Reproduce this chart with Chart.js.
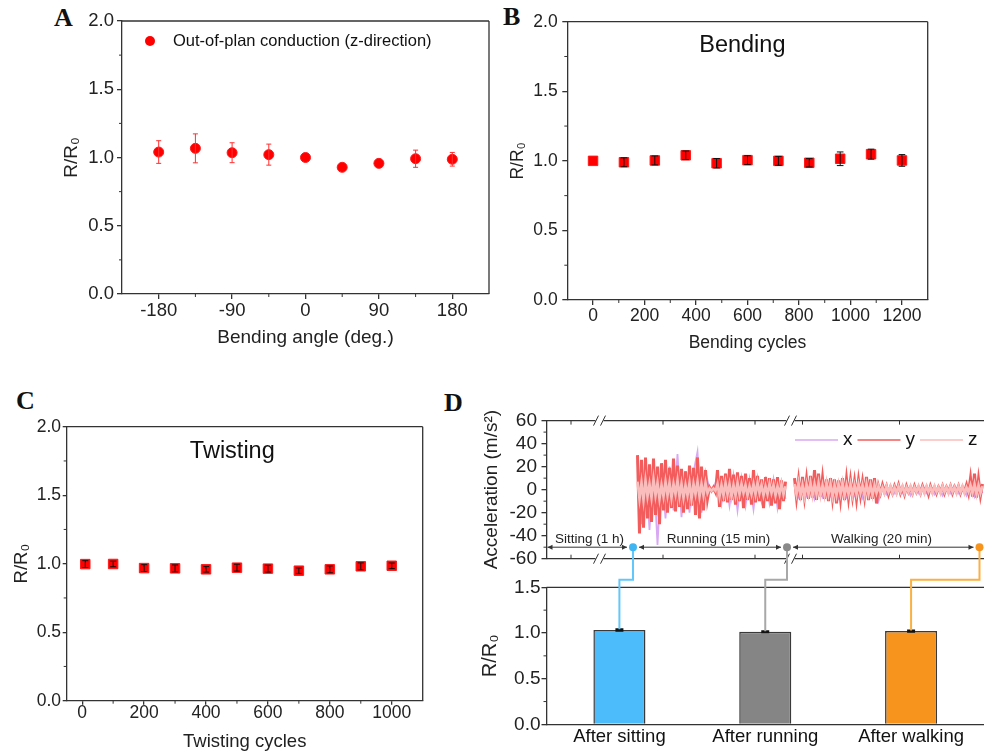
<!DOCTYPE html>
<html>
<head>
<meta charset="utf-8">
<title>R/R0 stability</title>
<script src="https://cdn.jsdelivr.net/npm/chart.js@4.4.1/dist/chart.umd.min.js"></script>
<style>
  html, body { margin: 0; padding: 0; background: #fff; overflow: hidden; }
  body { position: relative; width: 984px; height: 755px; }
  canvas { position: absolute; }
  .tag { position: absolute; font: bold 26px/1 "Liberation Serif", "Times New Roman", serif; color: #111; }
</style>
</head>
<body>
<div class="tag" style="left:54px;top:5px">A</div>
<div class="tag" style="left:503px;top:4px">B</div>
<div class="tag" style="left:16px;top:388px">C</div>
<div class="tag" style="left:444px;top:390px">D</div>
<canvas id="panelA" width="495" height="380" style="left:0;top:0"></canvas>
<canvas id="panelB" width="494" height="380" style="left:490px;top:0"></canvas>
<canvas id="panelC" width="490" height="375" style="left:0;top:380px"></canvas>
<canvas id="panelDacc" width="544" height="375" style="left:440px;top:380px"></canvas>
<canvas id="panelDbar" width="544" height="375" style="left:440px;top:380px"></canvas>
<script>
// A - bending angle
const anglesA = [-180, -135, -90, -45, 0, 45, 90, 135, 180];
const ratioA = [1.04, 1.067, 1.035, 1.021, 1.0, 0.928, 0.957, 0.991, 0.987];
const errA = [0.083, 0.106, 0.073, 0.077, 0, 0, 0, 0.063, 0.05];
const ticksAx = [-180, -90, 0, 90, 180];
const minorAx = [-135, -45, 45, 135];

// shared R/R0 axis
const ratioTicks = [0, 0.5, 1, 1.5, 2];
const ratioMinor = [0.25, 0.75, 1.25, 1.75];

// B - bending cycles
const cyclesB = [0, 120, 240, 360, 480, 600, 720, 840, 960, 1080, 1200];
const ratioB = [1.0, 0.99, 1.003, 1.04, 0.983, 1.005, 1.0, 0.986, 1.015, 1.048, 1.003];
const errB = [0, 0.032, 0.032, 0.031, 0.034, 0.032, 0.032, 0.03, 0.049, 0.036, 0.042];
const ticksBx = [0, 200, 400, 600, 800, 1000, 1200];
const minorBx = [100, 300, 500, 700, 900, 1100];

// C - twisting cycles
const cyclesC = [10, 100, 200, 300, 400, 500, 600, 700, 800, 900, 1000];
const ratioC = [0.997, 0.998, 0.968, 0.966, 0.959, 0.971, 0.964, 0.949, 0.959, 0.981, 0.985];
const errC = [0.025, 0.02, 0.025, 0.025, 0.02, 0.025, 0.025, 0.02, 0.025, 0.025, 0.02];
const ticksCx = [0, 200, 400, 600, 800, 1000];
const minorCx = [100, 300, 500, 700, 900];

// D - acceleration trace (time in arbitrary units, running starts at 91, walking at 248)
const accNames = ['x', 'y', 'z'];
const accColors = ['#d8a8f2', '#f25c5c', '#fbbcbc'];
const runT0 = 91, walkT0 = 248, gapT = 244;
const runY = [30, -38, 26, -33, 28, -25, 22, -28, 27, -22,
  20, -30, 23, -18, 26, -20, 19, -16, 27, -19,
  21, -15, 18, -20, 16, -17, 21, -14, 19, -22,
  28, -25, 20, -18, 17, -8, 2, -1, 2, -2,
  17, -15, 12, -10, 14, -11, 18, -9, 13, -13,
  15, -10, 12, -16, 14, -9, 10, -13, 17, -11,
  12, -10, 9, -16, 11, -10, 10, -14, 9, -12,
  11, -17, 8, -10, 7];
const walkY = [10, -7, 8, -9, 11, -6, 9, -8, 12, -7,
  17, -9, 14, -6, 10, -8, 9, -10, 10, -7,
  9, -12, 8, -8, 10, -9, 9, -7, 8, -6,
  7, -8, 8, -5, 7, -6, 11, -9, 9, -8,
  10, -12, 3, -3, 4, -2, 3, -4, 2, -3,
  3, -2, 4, -3, 2, -4, 3, -2, 2, -3,
  3, -2, 2, -3, 3, -2, 2, -4, 3, -2,
  2, -3, 2, -2, 3, -3, 2, -2, 3, -3,
  2, -2, 3, -3, 2, -2, 4, -3, 10, -6,
  14, -7, 9, -5, 5];
const runZ = [7, -8, 6, -9, 8, -6, 5, -7, 9, -5,
  6, -8, 4, -6, 7, -5, 6, -7, 5, -4,
  8, -6, 5, -7, 4, -5, 6, -8, 5, -4,
  7, -6, 5, -5, 6, -3, 1, -1, 1, -1,
  5, -6, 4, -5, 6, -4, 5, -6, 4, -5,
  6, -4, 5, -3, 4, -5, 3, -4, 5, -4,
  6, -3, 4, -5, 3, -4, 5, -3, 4, -5,
  3, -4, 5, -4, 3];
const walkZ = [5, -4, 6, -5, 4, -6, 5, -4, 6, -5,
  5, -4, 6, -5, 4, -5, 6, -4, 5, -6,
  4, -5, 5, -4, 6, -5, 4, -4, 5, -5,
  4, -4, 5, -3, 4, -5, 5, -4, 4, -5,
  4, -3, 3, -3, 2, -3, 3, -2, 3, -3,
  2, -3, 3, -2, 3, -3, 2, -2, 3, -3,
  2, -2, 3, -3, 2, -3, 3, -2, 2, -3,
  3, -2, 2, -3, 3, -2, 2, -3, 3, -2,
  2, -3, 3, -2, 3, -3, 2, -2, 4, -3,
  5, -4, 4, -3, 3];
const runX = [25, -30, 20, -35, 22, -48, 18, -25, 20, -18,
  31, -24, 16, -20, 15, 33, -20, 15, 1, -1,
  12, -12, 10, -14, 12, -18, 10, -14, 9, -17,
  10, -10, 8, -12, 9, -16, 7, -8];
const walkX = [5, -6, 7, -5, 6, -8, 5, -6, 7, -5,
  6, -7, 5, -6, 4, -5, 6, -7, 5, -4,
  4, -10, 3, -4, 3, -3, 4, -3, 3, -5,
  3, -3, 4, -3, 3, -4, 3, -5, 3, -3,
  4, -3, 3, -5, 6, -6, 4, -3];
const accTicks = [-60, -40, -20, 0, 20, 40, 60];
const accMinor = [-50, -30, -10, 10, 30, 50];
const timeTicks = [24.5, 116.5, 208.5, 256, 353];
const timeBreaks = [53, 244];

const phases = ['Sitting (1 h)', 'Running (15 min)', 'Walking (20 min)'];
const phaseStart = [0, 86.5, 240.5];
const phaseEnd = [86.5, 240.5, 433];
const phaseTextAt = [43, 172, 335];

// D - R/R0 after each activity
const afterCats = ['After sitting', 'After running', 'After walking'];
const ratioD = [1.033, 1.013, 1.021];
const errD = [0.008, 0.006, 0.006];
const ratioTicksD = [0, 0.5, 1, 1.5];
const ratioMinorD = [0.25, 0.75, 1.25];
const barColors = ['#4cbdfa', '#858585', '#f7941d'];
const linkColors = ['#62c8fa', '#a8a8a8', '#fbb040'];
const dotColors = ['#3fb6f2', '#8a8a8a', '#f7941d'];

const FONT = '"Liberation Sans", Arial, sans-serif';
const INK = '#333';
Chart.defaults.font.family = FONT;
Chart.defaults.color = '#222';
Chart.defaults.animation = false;
Chart.defaults.events = [];
Chart.defaults.plugins.legend.display = false;
Chart.defaults.plugins.tooltip.enabled = false;

const setTicks = vals => s => { s.ticks = vals.map(v => ({ value: v })); };
const fixWidth = w => s => { s.width = w; s.paddingTop = 0; s.paddingBottom = 0; };
const fixHeight = h => s => { s.height = h; s.paddingLeft = 0; s.paddingRight = 0; };
const oneDec = v => v.toFixed(1);
const plain = v => String(v);

const errorBars = {
  id: 'errorBars',
  afterDatasetsDraw(chart, args, o) {
    if (!o.err) return;
    const ctx = chart.ctx, ys = chart.scales.y;
    const vals = chart.data.datasets[0].data;
    ctx.save();
    ctx.strokeStyle = o.color;
    ctx.lineWidth = o.width;
    chart.getDatasetMeta(0).data.forEach((el, i) => {
      const e = o.err[i];
      if (!e) return;
      const v = typeof vals[i] === 'object' ? vals[i].y : vals[i];
      const top = ys.getPixelForValue(v + e), bot = ys.getPixelForValue(v - e);
      ctx.beginPath();
      ctx.moveTo(el.x, top); ctx.lineTo(el.x, bot);
      ctx.moveTo(el.x - o.cap, top); ctx.lineTo(el.x + o.cap, top);
      ctx.moveTo(el.x - o.cap, bot); ctx.lineTo(el.x + o.cap, bot);
      ctx.stroke();
    });
    ctx.restore();
  }
};

// box sides, minor ticks and axis breaks
const frame = {
  id: 'frame',
  afterDatasetsDraw(chart, args, o) {
    if (!o.sides) return;
    const { ctx, chartArea: a } = chart;
    const xs = chart.scales.x, ys = chart.scales.y;
    ctx.save();
    ctx.strokeStyle = INK;
    ctx.lineWidth = 1.3;
    ctx.beginPath();
    if (o.sides.includes('t')) { ctx.moveTo(a.left, a.top); ctx.lineTo(a.right, a.top); }
    if (o.sides.includes('r')) { ctx.moveTo(a.right, a.top); ctx.lineTo(a.right, a.bottom); }
    if (o.sides.includes('b')) { ctx.moveTo(a.left, a.bottom); ctx.lineTo(a.right, a.bottom); }
    ctx.stroke();
    ctx.lineWidth = 1;
    ctx.beginPath();
    (o.minorX || []).forEach(v => { const p = xs.getPixelForValue(v); ctx.moveTo(p, a.bottom); ctx.lineTo(p, a.bottom + 3); });
    (o.minorY || []).forEach(v => { const p = ys.getPixelForValue(v); ctx.moveTo(a.left - 3, p); ctx.lineTo(a.left, p); });
    (o.innerX || []).forEach(v => {
      const p = xs.getPixelForValue(v);
      ctx.moveTo(p, a.top); ctx.lineTo(p, a.top + 4);
      ctx.moveTo(p, a.bottom - 4); ctx.lineTo(p, a.bottom);
    });
    ctx.stroke();
    (o.breaks || []).forEach(v => {
      const p = xs.getPixelForValue(v);
      [a.top, a.bottom].forEach(y => {
        ctx.fillStyle = '#fff';
        ctx.fillRect(p - 4, y - 2, 8, 4);
        ctx.beginPath();
        ctx.moveTo(p - 6, y + 5); ctx.lineTo(p - 1, y - 5);
        ctx.moveTo(p + 1, y + 5); ctx.lineTo(p + 6, y - 5);
        ctx.stroke();
      });
    });
    ctx.restore();
  }
};

const notes = {
  id: 'notes',
  afterDatasetsDraw(chart, args, o) {
    if (!o.items) return;
    const ctx = chart.ctx;
    ctx.save();
    ctx.textAlign = 'center';
    ctx.textBaseline = 'middle';
    ctx.fillStyle = '#111';
    o.items.forEach(it => {
      ctx.font = it.size + 'px ' + FONT;
      ctx.fillText(it.text, chart.scales.x.getPixelForValue(it.x), chart.scales.y.getPixelForValue(it.y));
    });
    ctx.restore();
  }
};

// legend drawn inside the plot box
const key = {
  id: 'key',
  afterDatasetsDraw(chart, args, o) {
    if (!o.marker) return;
    const { ctx, chartArea: a } = chart;
    let x = a.left + o.dx;
    const y = a.top + o.dy;
    ctx.save();
    ctx.font = o.fontSize + 'px ' + FONT;
    ctx.textBaseline = 'middle';
    chart.data.datasets.forEach(d => {
      if (o.marker === 'circle') {
        ctx.fillStyle = d.backgroundColor;
        ctx.beginPath(); ctx.arc(x, y, o.r, 0, Math.PI * 2); ctx.fill();
        x += o.gap;
      } else {
        ctx.strokeStyle = d.borderColor;
        ctx.lineWidth = 1.5;
        ctx.beginPath(); ctx.moveTo(x, y); ctx.lineTo(x + o.len, y); ctx.stroke();
        x += o.len + o.gap;
      }
      ctx.fillStyle = '#111';
      ctx.fillText(d.label, x, y);
      x += ctx.measureText(d.label).width + o.gap;
    });
    ctx.restore();
  }
};

const phaseArrows = {
  id: 'phaseArrows',
  afterDatasetsDraw(chart, args, o) {
    if (!o.labels) return;
    const ctx = chart.ctx, xs = chart.scales.x, ys = chart.scales.y;
    const yy = ys.getPixelForValue(o.level), ty = ys.getPixelForValue(o.textLevel);
    ctx.save();
    ctx.strokeStyle = INK;
    ctx.lineWidth = 1;
    ctx.font = '13.5px ' + FONT;
    ctx.textAlign = 'center';
    ctx.textBaseline = 'middle';
    o.labels.forEach((lab, i) => {
      const x1 = xs.getPixelForValue(o.start[i]) + (i ? 6 : 1);
      const x2 = xs.getPixelForValue(o.end[i]) - 6;
      ctx.fillStyle = INK;
      ctx.beginPath(); ctx.moveTo(x1, yy); ctx.lineTo(x2, yy); ctx.stroke();
      ctx.beginPath();
      ctx.moveTo(x1, yy); ctx.lineTo(x1 + 5, yy - 2.5); ctx.lineTo(x1 + 5, yy + 2.5); ctx.closePath();
      ctx.moveTo(x2, yy); ctx.lineTo(x2 - 5, yy - 2.5); ctx.lineTo(x2 - 5, yy + 2.5); ctx.closePath();
      ctx.fill();
      ctx.fillStyle = '#222';
      ctx.fillText(lab, xs.getPixelForValue(o.textAt[i]), ty);
    });
    ctx.restore();
  }
};

let accChart = null;

// coloured leaders from the phase dots down to the bars (both D canvases share one origin)
const links = {
  id: 'links',
  afterDatasetsDraw(chart, args, o) {
    if (!o.colors || !accChart) return;
    const { ctx, chartArea: a } = chart;
    const ax = accChart.scales.x, ay = accChart.scales.y, ys = chart.scales.y;
    const vals = chart.data.datasets[0].data;
    const dotY = ay.getPixelForValue(o.level);
    const midY = a.top - 7.5;
    ctx.save();
    ctx.lineWidth = 2;
    chart.getDatasetMeta(0).data.forEach((bar, i) => {
      const dx = ax.getPixelForValue(o.at[i]);
      const by = ys.getPixelForValue(vals[i] + o.err[i]);
      ctx.strokeStyle = o.colors[i];
      ctx.beginPath();
      ctx.moveTo(dx, dotY); ctx.lineTo(dx, midY); ctx.lineTo(bar.x, midY); ctx.lineTo(bar.x, by);
      ctx.stroke();
      ctx.fillStyle = o.dots[i];
      ctx.beginPath(); ctx.arc(dx, dotY, 4, 0, Math.PI * 2); ctx.fill();
    });
    ctx.restore();
  }
};

Chart.register(errorBars, frame, notes, key, phaseArrows, links);

function ratioPanel(id, c) {
  return new Chart(document.getElementById(id), {
    type: 'scatter',
    data: {
      datasets: [{
        label: c.label || '',
        data: c.xs.map((x, i) => ({ x: x, y: c.ys[i] })),
        pointStyle: c.marker,
        pointRadius: c.r,
        backgroundColor: '#ff0000',
        borderColor: '#ff1a1a',
        borderWidth: 1
      }]
    },
    options: {
      responsive: false,
      layout: { padding: c.pad },
      scales: {
        x: {
          type: 'linear', min: c.xMin, max: c.xMax,
          afterBuildTicks: setTicks(c.xTicks),
          afterFit: fixHeight(c.xH),
          grid: { drawOnChartArea: false, color: INK, lineWidth: 1.3, tickLength: c.tl },
          border: { color: INK, width: 1.3 },
          ticks: { font: { size: c.tick }, padding: c.xPad, color: '#222', autoSkip: false, maxRotation: 0, callback: plain },
          title: { display: true, text: c.xTitle, font: { size: c.title }, color: '#222', padding: { top: 0, bottom: c.xTitlePad } }
        },
        y: {
          min: 0, max: 2,
          afterBuildTicks: setTicks(ratioTicks),
          afterFit: fixWidth(c.yW),
          grid: { drawOnChartArea: false, color: INK, lineWidth: 1.3, tickLength: c.tl },
          border: { color: INK, width: 1.3 },
          ticks: { font: { size: c.tick }, padding: c.yPad, color: '#222', autoSkip: false, callback: oneDec },
          title: { display: true, text: 'R/R₀', font: { size: c.title }, color: '#222', padding: { top: c.yTitlePad, bottom: 0 } }
        }
      },
      plugins: {
        errorBars: { err: c.err, color: c.errColor, width: 1, cap: c.cap },
        frame: { sides: 'tr', minorX: c.xMinor, minorY: ratioMinor },
        notes: c.note ? { items: [c.note] } : {},
        key: c.key || {}
      }
    }
  });
}

ratioPanel('panelA', {
  label: 'Out-of-plan conduction (z-direction)',
  xs: anglesA, ys: ratioA, err: errA, errColor: '#ff3030', cap: 2.5,
  marker: 'circle', r: 5,
  xMin: -225, xMax: 225, xTicks: ticksAx, xMinor: minorAx,
  pad: { top: 21, right: 1, left: 0, bottom: 0 }, yW: 122, xH: 86, tl: 5,
  tick: 18.5, xPad: 1, yPad: 3, title: 19, xTitlePad: 30.6, yTitlePad: 60.6,
  xTitle: 'Bending angle (deg.)',
  key: { marker: 'circle', dx: 28, dy: 20, r: 5, gap: 23, fontSize: 16.5 }
});

ratioPanel('panelB', {
  xs: cyclesB, ys: ratioB, err: errB, errColor: '#111', cap: 3.3,
  marker: 'rect', r: 6.7,
  xMin: -100, xMax: 1300, xTicks: ticksBx, xMinor: minorBx,
  pad: { top: 21.7, right: 56.3, left: 0, bottom: 0 }, yW: 77.3, xH: 80, tl: 5,
  tick: 17.5, xPad: 0.5, yPad: 4.6, title: 17.5, xTitlePad: 26.2, yTitlePad: 17.8,
  xTitle: 'Bending cycles',
  note: { text: 'Bending', x: 580, y: 1.83, size: 23.5 }
});

ratioPanel('panelC', {
  xs: cyclesC, ys: ratioC, err: errC, errColor: '#111', cap: 3,
  marker: 'rect', r: 6.7,
  xMin: -50, xMax: 1100, xTicks: ticksCx, xMinor: minorCx,
  pad: { top: 46.7, right: 67.3, left: 0, bottom: 0 }, yW: 66.7, xH: 54.3, tl: 4,
  tick: 17.5, xPad: -2, yPad: 1.7, title: 18.5, xTitlePad: 2.2, yTitlePad: 10.6,
  xTitle: 'Twisting cycles',
  note: { text: 'Twisting', x: 485, y: 1.82, size: 23.5 }
});

function accSeries(run, walk, step) {
  const a = run.map((v, i) => ({ x: runT0 + i * step, y: v }));
  const b = walk.map((v, i) => ({ x: walkT0 + i * step, y: v }));
  return a.concat([{ x: gapT, y: null }], b);
}

accChart = new Chart(document.getElementById('panelDacc'), {
  type: 'line',
  data: {
    datasets: [
      { label: accNames[0], data: accSeries(runX, walkX, 4), borderColor: accColors[0], borderWidth: 1.8, order: 3 },
      { label: accNames[1], data: accSeries(runY, walkY, 2), borderColor: accColors[1], borderWidth: 3, order: 2 },
      { label: accNames[2], data: accSeries(runZ, walkZ, 2), borderColor: accColors[2], borderWidth: 2.6, order: 1 }
    ]
  },
  options: {
    responsive: false,
    spanGaps: false,
    elements: { point: { radius: 0 }, line: { tension: 0 } },
    layout: { padding: { top: 40.6, bottom: 196.3, left: 0, right: 0 } },
    scales: {
      x: { type: 'linear', display: false, min: 0, max: 437.5 },
      y: {
        min: -60, max: 60,
        afterBuildTicks: setTicks(accTicks),
        afterFit: fixWidth(106.5),
        grid: { drawOnChartArea: false, color: INK, lineWidth: 1.3, tickLength: 5 },
        border: { color: INK, width: 1.3 },
        ticks: { font: { size: 19 }, padding: 4.5, color: '#222', autoSkip: false, callback: plain },
        title: { display: true, text: 'Acceleration (m/s²)', font: { size: 19 }, color: '#222', padding: { top: 40.6, bottom: 0 } }
      }
    },
    plugins: {
      frame: { sides: 'tb', minorY: accMinor, innerX: timeTicks, breaks: timeBreaks },
      key: { marker: 'line', dx: 248.5, dy: 19.4, len: 43, gap: 5, fontSize: 19 },
      phaseArrows: { labels: phases, start: phaseStart, end: phaseEnd, textAt: phaseTextAt, level: -50, textLevel: -42.8 }
    }
  }
});

new Chart(document.getElementById('panelDbar'), {
  type: 'bar',
  data: {
    labels: afterCats,
    datasets: [{
      data: ratioD,
      backgroundColor: barColors,
      borderColor: '#3a3a3a',
      borderWidth: 1.5,
      barPercentage: 0.357,
      categoryPercentage: 1
    }]
  },
  options: {
    responsive: false,
    layout: { padding: { top: 207.3, bottom: 0, left: 0, right: 0 } },
    scales: {
      x: {
        afterFit: fixHeight(30.6),
        grid: { display: false, drawTicks: false },
        border: { color: INK, width: 1.3 },
        ticks: { font: { size: 18.5 }, padding: 1, color: '#111' }
      },
      y: {
        min: 0, max: 1.5,
        afterBuildTicks: setTicks(ratioTicksD),
        afterFit: fixWidth(106.5),
        grid: { drawOnChartArea: false, color: INK, lineWidth: 1.3, tickLength: 5 },
        border: { color: INK, width: 1.3 },
        ticks: { font: { size: 19 }, padding: 1, color: '#222', autoSkip: false, callback: oneDec },
        title: { display: true, text: 'R/R₀', font: { size: 20 }, color: '#222', padding: { top: 38.3, bottom: 0 } }
      }
    },
    plugins: {
      errorBars: { err: errD, color: '#111', width: 2, cap: 4 },
      frame: { sides: 't', minorY: ratioMinorD },
      links: { colors: linkColors, dots: dotColors, at: phaseEnd, err: errD, level: -50 }
    }
  }
});
</script>
</body>
</html>
